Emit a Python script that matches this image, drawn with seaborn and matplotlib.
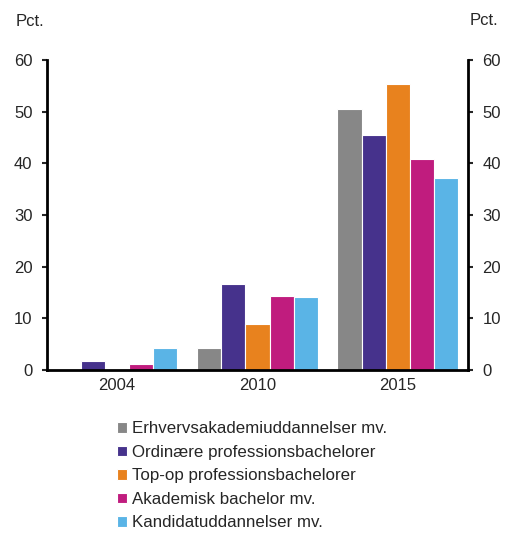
import pandas as pd
import numpy as np
import seaborn as sns
import matplotlib.pyplot as plt

# Data
years = ['2004', '2010', '2015']
groups = ['Erhvervsakademiuddannelser mv.', 'Ordinære professionsbachelorer',
          'Top-op professionsbachelorer', 'Akademisk bachelor mv.',
          'Kandidatuddannelser mv.']
erhverv = [0.0, 4.2, 50.5]
ordinaere = [1.7, 16.6, 45.5]
topop = [0.0, 8.9, 55.3]
akademisk = [1.1, 14.3, 40.8]
kandidat = [4.2, 14.1, 37.2]
colors = ['#878787', '#46328c', '#e8821e', '#c01c7e', '#5ab4e6']

series = [erhverv, ordinaere, topop, akademisk, kandidat]
rows = []
for g, vals in zip(groups, series):
    for y, v in zip(years, vals):
        rows.append({'Year': y, 'Group': g, 'Value': v})
df = pd.DataFrame(rows)

sns.set_style('white')
plt.rcParams['font.family'] = ['Liberation Sans', 'DejaVu Sans']

fig = plt.figure(figsize=(5.07, 5.33), dpi=100)
ax = fig.add_axes([0.0927, 0.306, 0.8303, 0.5814])

sns.barplot(data=df, x='Year', y='Value', hue='Group', hue_order=groups,
            palette=colors, saturation=1, width=0.86, edgecolor='white',
            linewidth=0.8, ax=ax, legend=True)

ax.set_ylim(0, 60)
ax.set_xlim(-0.5, 2.5)
ax.set_yticks(range(0, 61, 10))
ax.set_xticks([-0.5, 0.5, 1.5, 2.5], minor=False)
ax.set_xticklabels([])
ax.set_xticks([0, 1, 2], minor=True)
ax.set_xticklabels(years, minor=True)
ax.tick_params(axis='x', which='minor', length=0, labelsize=12, pad=6)
ax.tick_params(axis='x', which='major', direction='out', length=4, width=1.5)
ax.tick_params(axis='y', direction='out', length=3.5, width=1.5, labelsize=12,
               left=True, right=True, labelleft=True, labelright=True, pad=7)
ax.set_xlabel('')
ax.set_ylabel('')

ax.spines['top'].set_visible(False)
for side in ['left', 'right', 'bottom']:
    ax.spines[side].set_visible(True)
    ax.spines[side].set_linewidth(2)
    ax.spines[side].set_color('black')

fig.text(0.03, 0.96, 'Pct.', fontsize=12, ha='left', va='center')
fig.text(0.927, 0.962, 'Pct.', fontsize=12, ha='left', va='center')

handles, labels = ax.get_legend_handles_labels()
ax.get_legend().remove()
fig.legend(handles, labels, loc='upper left', bbox_to_anchor=(0.218, 0.222),
           frameon=False, fontsize=12.2, handlelength=0.6, handleheight=0.6,
           handletextpad=0.25, labelspacing=0.5, borderaxespad=0)

fig.savefig('out.png', dpi=100)
